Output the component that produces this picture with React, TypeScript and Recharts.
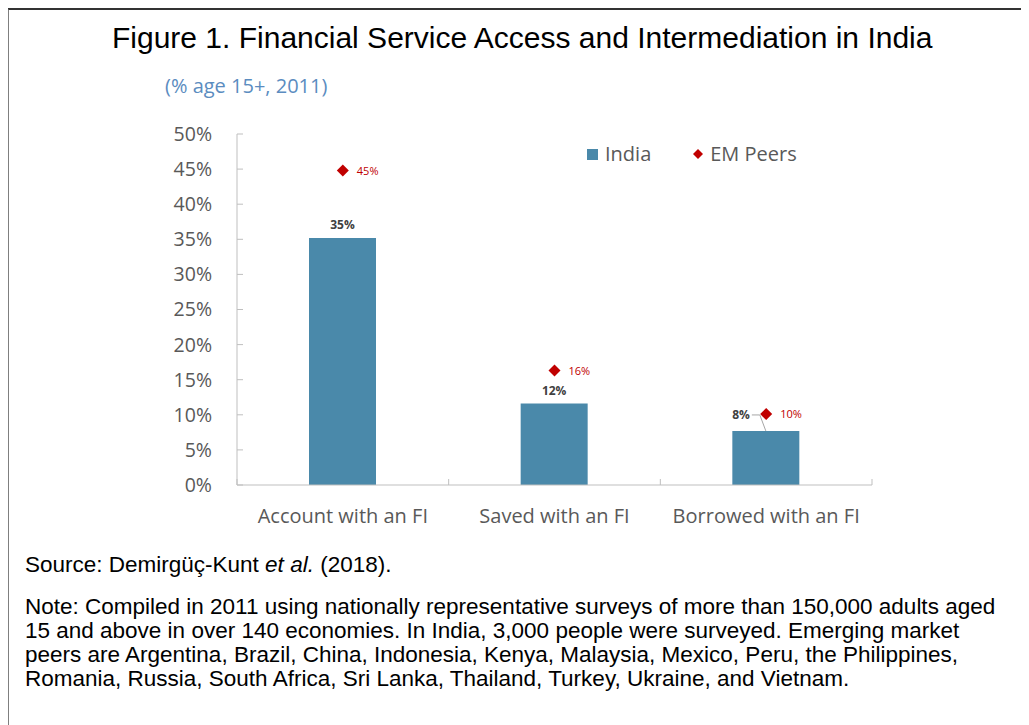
import React from "react";
import {
  ComposedChart,
  Bar,
  Line,
  XAxis,
  YAxis,
  Legend,
  LabelList,
} from "recharts";

const categories = ["Account with an FI", "Saved with an FI", "Borrowed with an FI"];
const indiaValues = [35.2, 11.6, 7.7];
const peerValues = [44.8, 16.3, 10.1];
const yTicks = [0, 5, 10, 15, 20, 25, 30, 35, 40, 45, 50];

const noteLines = [
  "Note: Compiled in 2011 using nationally representative surveys of more than 150,000 adults aged",
  "15 and above in over 140 economies. In India, 3,000 people were surveyed. Emerging market",
  "peers are Argentina, Brazil, China, Indonesia, Kenya, Malaysia, Mexico, Peru, the Philippines,",
  "Romania, Russia, South Africa, Sri Lanka, Thailand, Turkey, Ukraine, and Vietnam.",
];

const data = categories.map((name, i) => ({
  name,
  india: indiaValues[i],
  peers: peerValues[i],
}));

const BAR_COLOR = "#4a89aa";
const PEER_COLOR = "#c00000";
const AXIS_COLOR = "#bfbfbf";
const TEXT_COLOR = "#595959";
const FONT = "'Open Sans', sans-serif";
const ARIAL = "Arial, 'Liberation Sans', sans-serif";

// labels whose peer marker sits too close get pushed left with a leader line
const CLASH_GAP = 4;

function CategoryTick(props: any) {
  const { x, y, payload, index, visibleTicksCount } = props;
  const half = payload.offset ?? 0;
  return (
    <g>
      <line x1={x - half} x2={x - half} y1={y} y2={y - 6} stroke={AXIS_COLOR} />
      {index === visibleTicksCount - 1 && (
        <line x1={x + half} x2={x + half} y1={y} y2={y - 6} stroke={AXIS_COLOR} />
      )}
      <text
        x={x}
        y={y + 38}
        textAnchor="middle"
        fill={TEXT_COLOR}
        fontFamily={FONT}
        fontSize={20}
      >
        {payload.value}
      </text>
    </g>
  );
}

function IndiaLabel(props: any) {
  const { x, y, width, value, index } = props;
  const cx = x + width / 2;
  const label = `${Math.round(value)}%`;
  const clash = peerValues[index] - indiaValues[index] < CLASH_GAP;
  if (clash) {
    return (
      <g>
        <polyline
          points={`${cx - 14},${y - 16} ${cx - 6},${y - 16} ${cx},${y}`}
          fill="none"
          stroke="#a6a6a6"
        />
        <text
          x={cx - 16}
          y={y - 12}
          textAnchor="end"
          fill="#404040"
          fontFamily={FONT}
          fontWeight={700}
          fontSize={12}
        >
          {label}
        </text>
      </g>
    );
  }
  return (
    <text
      x={cx}
      y={y - 9}
      textAnchor="middle"
      fill="#404040"
      fontFamily={FONT}
      fontWeight={700}
      fontSize={12}
    >
      {label}
    </text>
  );
}

function PeerLabel(props: any) {
  const { x, y, value } = props;
  return (
    <text
      x={x + 14}
      y={y + 4}
      fill={PEER_COLOR}
      fontFamily={FONT}
      fontSize={11}
    >
      {`${Math.round(value)}%`}
    </text>
  );
}

function Diamond(props: any) {
  const { cx, cy, index } = props;
  const r = 6;
  return (
    <path
      key={`d-${index}`}
      d={`M${cx},${cy - r} L${cx + r},${cy} L${cx},${cy + r} L${cx - r},${cy} Z`}
      fill={PEER_COLOR}
    />
  );
}

function LegendContent() {
  const textStyle = { fontFamily: FONT, fontSize: 20, color: TEXT_COLOR, lineHeight: "24px" };
  return (
    <div style={{ display: "flex", alignItems: "center" }}>
      <span style={{ width: 11, height: 11, background: BAR_COLOR, display: "inline-block" }} />
      <span style={{ ...textStyle, marginLeft: 7 }}>India</span>
      <svg width={12} height={12} style={{ marginLeft: 41 }}>
        <path d="M6,1 L11,6 L6,11 L1,6 Z" fill={PEER_COLOR} />
      </svg>
      <span style={{ ...textStyle, marginLeft: 6 }}>EM Peers</span>
    </div>
  );
}

export default function App() {
  return (
    <div
      style={{
        position: "relative",
        width: 1021,
        height: 717,
        overflow: "hidden",
        background: "#fff",
      }}
    >
      <div
        style={{
          position: "absolute",
          left: -1,
          top: 0,
          width: 1040,
          height: 760,
          borderTop: "2px solid #333",
          borderLeft: "2px solid #7f7f7f",
          pointerEvents: "none",
        }}
      />
      <div
        style={{
          position: "absolute",
          top: 13,
          left: 104,
          fontFamily: ARIAL,
          fontSize: 30,
          lineHeight: "34px",
          color: "#000",
          whiteSpace: "nowrap",
        }}
      >
        Figure 1. Financial Service Access and Intermediation in India
      </div>
      <div
        style={{
          position: "absolute",
          top: 65,
          left: 157,
          fontFamily: FONT,
          fontSize: 20,
          lineHeight: "26px",
          color: "#5b8cc0",
          whiteSpace: "nowrap",
        }}
      >
        (% age 15+, 2011)
      </div>

      <div style={{ position: "absolute", left: 0, top: 0 }}>
        <ComposedChart
          width={1021}
          height={540}
          data={data}
          margin={{ top: 126, right: 157, left: 169, bottom: 23 }}
        >
          <XAxis
            dataKey="name"
            height={40}
            stroke={AXIS_COLOR}
            tickLine={false}
            tickSize={0}
            tickMargin={0}
            tick={<CategoryTick />}
            interval={0}
          />
          <YAxis
            width={60}
            domain={[0, 50]}
            ticks={yTicks}
            interval={0}
            stroke={AXIS_COLOR}
            tickSize={-6}
            tickMargin={31}
            tickFormatter={(v: number) => `${v}%`}
            tick={{ fill: TEXT_COLOR, fontFamily: FONT, fontSize: 19.5 }}
          />
          <Legend
            layout="horizontal"
            verticalAlign="middle"
            wrapperStyle={{ top: 134, left: 579, width: "auto" }}
            content={<LegendContent />}
          />
          <Bar dataKey="india" name="India" fill={BAR_COLOR} barSize={67} isAnimationActive={false}>
            <LabelList dataKey="india" content={<IndiaLabel />} />
          </Bar>
          <Line
            dataKey="peers"
            name="EM Peers"
            stroke="none"
            strokeWidth={0}
            dot={Diamond}
            activeDot={false}
            isAnimationActive={false}
          >
            <LabelList dataKey="peers" content={<PeerLabel />} />
          </Line>
        </ComposedChart>
      </div>

      <div
        style={{
          position: "absolute",
          top: 545,
          left: 17,
          fontFamily: ARIAL,
          fontSize: 22.5,
          lineHeight: "24px",
          color: "#000",
          whiteSpace: "nowrap",
        }}
      >
        Source: Demirgüç-Kunt <i>et al.</i> (2018).
      </div>
      <div
        style={{
          position: "absolute",
          top: 587,
          left: 17,
          fontFamily: ARIAL,
          fontSize: 22.5,
          lineHeight: "24px",
          color: "#000",
          whiteSpace: "nowrap",
        }}
      >
        {noteLines.map((l) => (
          <div key={l}>{l}</div>
        ))}
      </div>
    </div>
  );
}
